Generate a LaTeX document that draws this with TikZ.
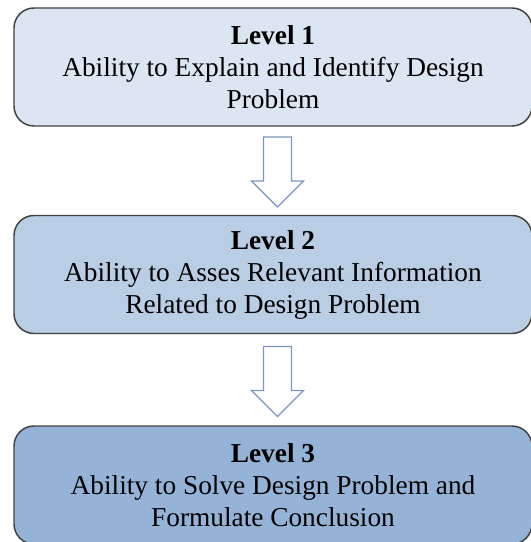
\documentclass[tikz,border=0pt]{standalone}
\usepackage{fontspec}
\setmainfont{Liberation Serif}
\usetikzlibrary{shapes.arrows}

\definecolor{lvlA}{RGB}{220,230,242}
\definecolor{lvlB}{RGB}{185,205,229}
\definecolor{lvlC}{RGB}{149,179,215}
\definecolor{edgegray}{RGB}{64,64,64}
\definecolor{arrowblue}{RGB}{124,150,190}

\tikzset{every picture/.style={line width=0.75pt}}
\tikzset{
  levelbox/.style={draw=edgegray, line width=1.1pt, rounded corners=15pt,
    minimum width=388.5pt, minimum height=88.5pt, inner sep=0pt,
    align=center, font=\fontsize{20.5}{24}\selectfont},
  downarrow/.style={draw=arrowblue, fill=white, line width=0.9pt,
    single arrow, shape border rotate=270, inner sep=10.1pt,
    minimum height=52.5pt, minimum width=38.25pt,
    single arrow head extend=9pt, single arrow head indent=0pt}
}

\begin{document}
\begin{tikzpicture}[x=0.75pt,y=0.75pt,yscale=-1,xscale=1]

\useasboundingbox (0,0) rectangle (531,542);

\node [levelbox, fill=lvlA] (lvl1) at (273,67) {\textbf{Level 1}\\Ability to Explain and Identify Design\\Problem};
\node [levelbox, fill=lvlB] (lvl2) at (273,274.5) {\textbf{Level 2}\\Ability to Asses Relevant Information\\Related to Design Problem};
\node [levelbox, fill=lvlC] (lvl3) at (273,485) {\textbf{Level 3}\\Ability to Solve Design Problem and\\Formulate Conclusion};

\node [downarrow] (arr1) at (277.5,165) {};
\node [downarrow] (arr2) at (277.5,374.5) {};

\end{tikzpicture}
\end{document}
